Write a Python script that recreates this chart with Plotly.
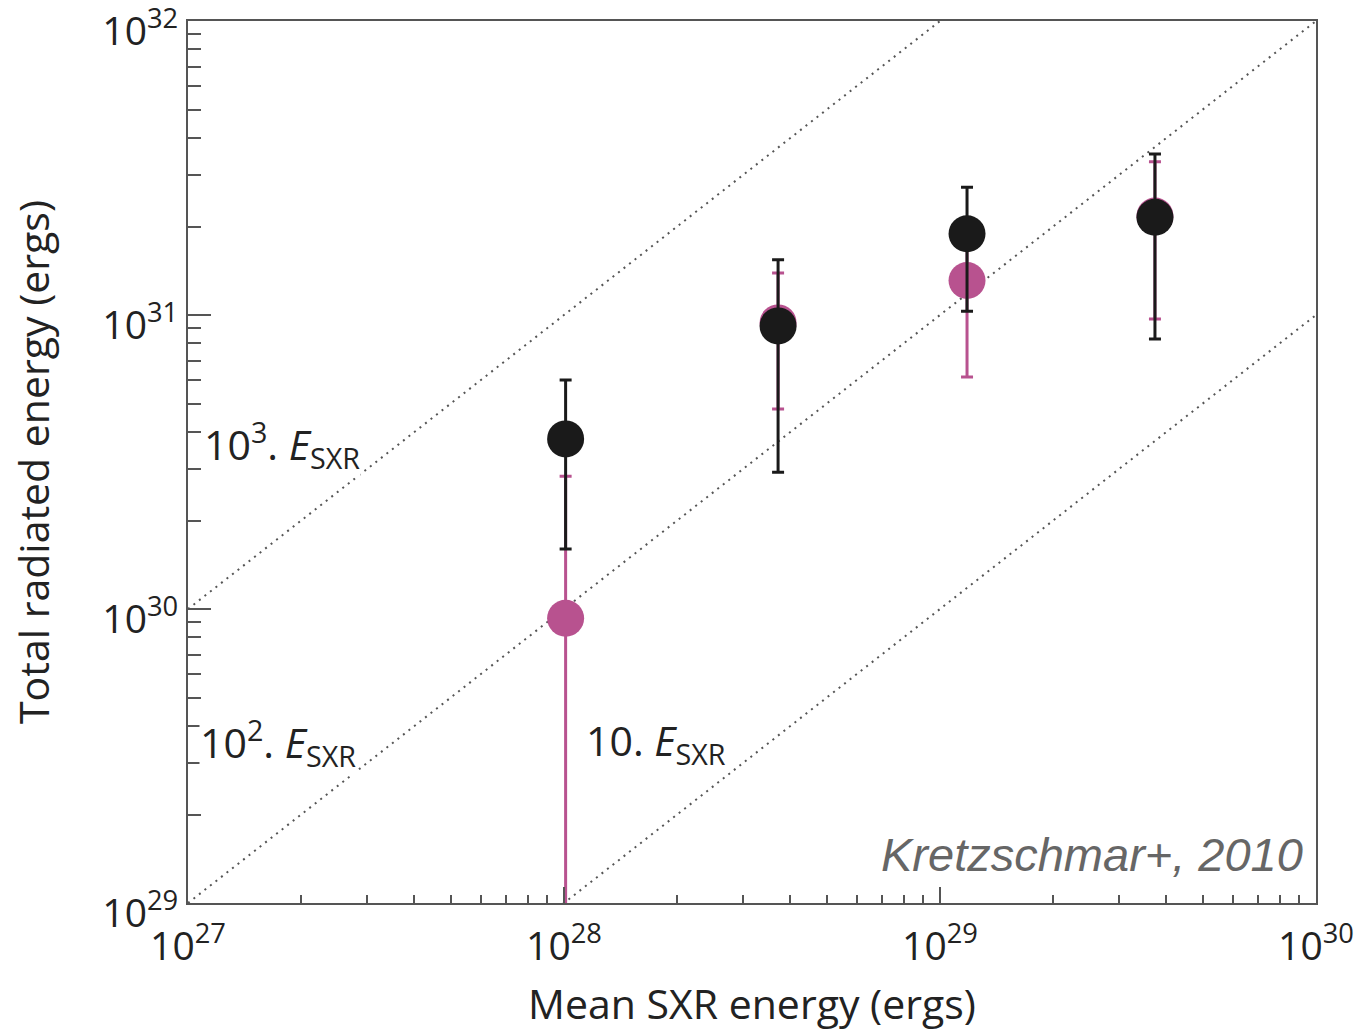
import numpy as np
import plotly.graph_objects as go

# Mean SXR energy (ergs) for each flare class bin
sxr_energy = [1.01e28, 3.71e28, 1.18e29, 3.73e29]

# Total radiated energy (ergs): black series
total_black = [3.79e30, 9.18e30, 1.89e31, 2.15e31]
black_hi = [6.01e30, 1.54e31, 2.72e31, 3.53e31]
black_lo = [1.60e30, 2.92e30, 1.03e31, 8.29e30]

# Total radiated energy (ergs): magenta series
total_magenta = [9.3e29, 9.4e30, 1.31e31, 2.17e31]
magenta_hi = [2.83e30, 1.39e31, 2.0e31, 3.32e31]
magenta_lo = [5.0e28, 4.79e30, 6.15e30, 9.69e30]

# Reference lines E_tot = k * E_SXR
ratios = [1e3, 1e2, 10.0]
ratio_labels = ["10<sup>3</sup>. <i>E</i><sub>SXR</sub>",
                "10<sup>2</sup>. <i>E</i><sub>SXR</sub>",
                "10. <i>E</i><sub>SXR</sub>"]

x_ticks = [1e27, 1e28, 1e29, 1e30]
x_ticktext = ["10<sup>27</sup>", "10<sup>28</sup>", "10<sup>29</sup>", "10<sup>30</sup>"]
y_ticks = [1e29, 1e30, 1e31, 1e32]
y_ticktext = ["10<sup>29</sup>", "10<sup>30</sup>", "10<sup>31</sup>", "10<sup>32</sup>"]

BLACK = "#1a1a1a"
MAGENTA = "#b8528f"
FONT = "Open Sans"
TXT = "#222222"
AX = "#555555"

fig = go.Figure()

xl = np.array([1e27, 1e30])
for k in ratios:
    fig.add_trace(go.Scatter(
        x=xl, y=k * xl, mode="lines",
        line=dict(color=AX, width=2, dash="2px,5px"),
        hoverinfo="skip", showlegend=False))


def errs(vals, hi, lo):
    plus = [h - v for h, v in zip(hi, vals)]
    minus = [v - l for v, l in zip(vals, lo)]
    return plus, minus


mp, mm = errs(total_magenta, magenta_hi, magenta_lo)
fig.add_trace(go.Scatter(
    x=sxr_energy, y=total_magenta, mode="markers",
    marker=dict(color=MAGENTA, size=37, line=dict(width=0)),
    error_y=dict(type="data", symmetric=False, array=mp, arrayminus=mm,
                 color=MAGENTA, thickness=3, width=6),
    showlegend=False))

bp, bm = errs(total_black, black_hi, black_lo)
fig.add_trace(go.Scatter(
    x=sxr_energy, y=total_black, mode="markers",
    marker=dict(color=BLACK, size=37, line=dict(width=0)),
    error_y=dict(type="data", symmetric=False, array=bp, arrayminus=bm,
                 color=BLACK, thickness=3, width=6),
    showlegend=False))

# Labels for the reference lines (positions in log10 units)
label_pos = [(27.04, 30.56), (27.03, 29.545), (28.055, 29.545)]
for (lx, ly), txt in zip(label_pos, ratio_labels):
    fig.add_annotation(x=lx, y=ly, xref="x", yref="y", text=txt,
                       showarrow=False, xanchor="left", yanchor="middle",
                       bgcolor="white", borderpad=0,
                       font=dict(family=FONT, size=41, color=TXT))

fig.add_annotation(x=0.9905, y=0.055, xref="paper", yref="paper",
                   text="<i>Kretzschmar+, 2010</i>", showarrow=False,
                   xanchor="right", yanchor="middle",
                   font=dict(family="Liberation Sans", size=47, color="#666666"))

x_minor = [float(m) * 10.0 ** e for e in (27, 28, 29) for m in range(2, 10)]
y_minor = [float(m) * 10.0 ** e for e in (29, 30, 31) for m in range(2, 10)]

fig.update_xaxes(
    type="log", range=[27, 30], automargin=False,
    tickmode="array", tickvals=x_ticks, ticktext=x_ticktext,
    ticks="inside", ticklen=16, tickwidth=2, tickcolor=AX,
    minor=dict(tickmode="array", tickvals=x_minor, ticks="inside",
               ticklen=8, tickwidth=2, tickcolor=AX, showgrid=False),
    showline=True, linecolor=AX, linewidth=2, mirror=True,
    showgrid=False, zeroline=False, ticklabeloverflow="allow",
    ticklabelstandoff=8,
    tickfont=dict(family=FONT, size=39, color=TXT),
    title=dict(text="Mean SXR energy (ergs)",
               font=dict(family=FONT, size=41, color=TXT), standoff=34))

fig.update_yaxes(
    type="log", range=[29, 32], automargin=False,
    tickmode="array", tickvals=y_ticks, ticktext=y_ticktext,
    ticks="inside", ticklen=23, tickwidth=2, tickcolor=AX,
    minor=dict(tickmode="array", tickvals=y_minor, ticks="inside",
               ticklen=13, tickwidth=2, tickcolor=AX, showgrid=False),
    showline=True, linecolor=AX, linewidth=2, mirror=True,
    showgrid=False, zeroline=False, ticklabeloverflow="allow",
    ticklabelshift=10,
    tickfont=dict(family=FONT, size=39, color=TXT),
    title=dict(text="Total radiated energy (ergs)",
               font=dict(family=FONT, size=41, color=TXT), standoff=40))

fig.update_layout(
    width=1358, height=1031,
    margin=dict(l=188, r=42, t=21, b=128),
    plot_bgcolor="white", paper_bgcolor="white",
    showlegend=False)

fig.write_html("out.html")
